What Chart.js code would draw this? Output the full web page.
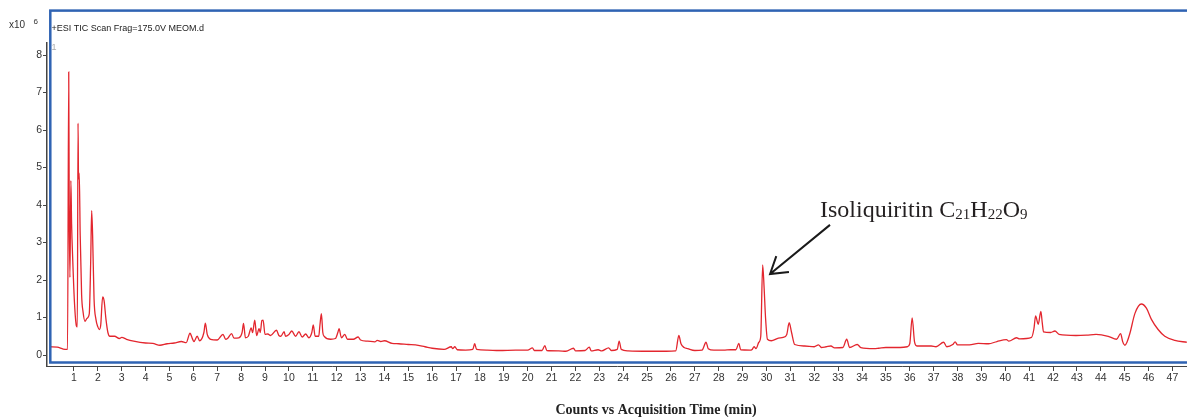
<!DOCTYPE html>
<html>
<head>
<meta charset="utf-8">
<title>TIC chromatogram</title>
<script src="https://cdn.jsdelivr.net/npm/chart.js@4"></script>
<style>
  body { margin: 0; background: #fff; }
  #wrap { width: 1187px; height: 417px; }
</style>
</head>
<body>
<div id="wrap"><canvas id="ticChart" width="1187" height="417"></canvas></div>
<script>
// retention time (min)
var times = [
  0.00, 0.30, 0.55, 0.70, 0.73, 0.78, 0.80, 0.83, 0.87, 0.90, 0.95, 1.02, 1.10, 1.14,
  1.17, 1.19, 1.22, 1.26, 1.32, 1.38, 1.46, 1.55, 1.64, 1.70, 1.74, 1.78, 1.84, 1.92,
  2.00, 2.06, 2.12, 2.20, 2.26, 2.34, 2.42, 2.50, 2.70, 2.90, 3.00, 3.20, 3.50, 4.00,
  4.30, 4.60, 4.90, 5.20, 5.50, 5.70, 5.86, 5.95, 6.02, 6.16, 6.26, 6.44, 6.50, 6.58,
  6.72, 7.00, 7.24, 7.35, 7.44, 7.60, 7.70, 7.90, 8.04, 8.10, 8.18, 8.30, 8.42, 8.48,
  8.57, 8.65, 8.75, 8.80, 8.87, 8.92, 9.00, 9.12, 9.23, 9.48, 9.58, 9.66, 9.80, 9.86,
  10.00, 10.12, 10.28, 10.42, 10.56, 10.70, 10.84, 10.96, 11.02, 11.10, 11.25, 11.30,
  11.36, 11.42, 11.48, 11.75, 11.95, 12.05, 12.10, 12.20, 12.34, 12.45, 12.70, 12.90,
  13.00, 13.30, 13.60, 13.70, 13.85, 14.00, 14.32, 14.60, 15.00, 15.30, 15.70, 16.00,
  16.50, 16.80, 16.86, 16.95, 17.05, 17.40, 17.70, 17.78, 17.86, 18.30, 18.80, 19.50,
  20.00, 20.20, 20.28, 20.60, 20.72, 20.80, 21.30, 21.60, 21.92, 22.00, 22.40, 22.58,
  22.66, 22.95, 23.10, 23.39, 23.50, 23.75, 23.83, 23.92, 24.20, 24.80, 25.30, 25.80,
  26.20, 26.33, 26.42, 26.55, 26.70, 27.00, 27.30, 27.47, 27.56, 27.80, 28.20, 28.50,
  28.72, 28.84, 28.92, 29.30, 29.40, 29.48, 29.56, 29.68, 29.76, 29.84, 29.90, 29.96,
  30.04, 30.20, 30.50, 30.70, 30.85, 30.95, 31.05, 31.18, 31.60, 32.00, 32.18, 32.30,
  32.50, 32.70, 32.85, 33.20, 33.36, 33.48, 33.80, 33.95, 34.50, 34.70, 35.00, 35.30,
  35.60, 35.90, 36.00, 36.10, 36.20, 36.30, 36.90, 37.10, 37.42, 37.55, 37.80, 37.90,
  38.00, 38.50, 38.87, 39.30, 39.65, 40.05, 40.15, 40.47, 40.60, 41.10, 41.20, 41.27,
  41.38, 41.49, 41.55, 41.60, 41.90, 42.08, 42.25, 42.96, 43.40, 43.80, 44.31, 44.66,
  44.83, 44.92, 45.01, 45.10, 45.22, 45.43, 45.70, 45.91, 46.12, 46.40, 46.68, 47.10,
  47.60
];

// counts, x10^6
var counts = [
  0.22, 0.21, 0.16, 0.15, 0.15, 7.55, 4.00, 2.07, 4.65, 3.50, 2.50, 1.40, 0.78, 0.75,
  6.18, 4.70, 4.85, 3.20, 1.60, 1.15, 0.90, 0.98, 1.10, 2.50, 3.85, 3.20, 1.50, 0.95,
  0.75, 0.68, 0.80, 1.55, 1.45, 0.95, 0.60, 0.50, 0.50, 0.44, 0.47, 0.42, 0.37, 0.32,
  0.31, 0.26, 0.30, 0.32, 0.36, 0.33, 0.58, 0.45, 0.36, 0.50, 0.38, 0.60, 0.85, 0.55,
  0.42, 0.40, 0.55, 0.42, 0.45, 0.57, 0.45, 0.46, 0.60, 0.84, 0.46, 0.50, 0.72, 0.60,
  0.93, 0.52, 0.70, 0.60, 0.92, 0.93, 0.55, 0.56, 0.52, 0.66, 0.52, 0.50, 0.62, 0.50,
  0.55, 0.64, 0.50, 0.62, 0.48, 0.56, 0.46, 0.60, 0.80, 0.50, 0.50, 0.80,
  1.10, 0.60, 0.50, 0.42, 0.44, 0.60, 0.70, 0.46, 0.55, 0.42, 0.42, 0.48,
  0.40, 0.37, 0.35, 0.39, 0.36, 0.38, 0.31, 0.30, 0.28, 0.27, 0.22, 0.18,
  0.15, 0.22, 0.17, 0.22, 0.14, 0.13, 0.15, 0.30, 0.15, 0.13, 0.12, 0.13,
  0.13, 0.19, 0.12, 0.12, 0.25, 0.12, 0.11, 0.10, 0.18, 0.11, 0.12, 0.21,
  0.11, 0.14, 0.11, 0.19, 0.12, 0.15, 0.37, 0.15, 0.11, 0.10, 0.10, 0.10,
  0.11, 0.52, 0.30, 0.20, 0.17, 0.12, 0.13, 0.34, 0.17, 0.13, 0.13, 0.14,
  0.14, 0.31, 0.14, 0.13, 0.15, 0.22, 0.17, 0.34, 0.50, 2.40, 1.80, 1.00,
  0.42, 0.38, 0.45, 0.47, 0.55, 0.86, 0.60, 0.28, 0.24, 0.22, 0.27, 0.20,
  0.22, 0.24, 0.19, 0.20, 0.42, 0.20, 0.28, 0.20, 0.17, 0.18, 0.20, 0.20,
  0.20, 0.22, 0.30, 0.99, 0.35, 0.24, 0.24, 0.22, 0.34, 0.22, 0.28, 0.35,
  0.27, 0.27, 0.31, 0.30, 0.36, 0.41, 0.37, 0.46, 0.43, 0.47, 0.70, 1.04,
  0.82, 1.16, 0.85, 0.62, 0.60, 0.64, 0.55, 0.52, 0.53, 0.55, 0.50, 0.42,
  0.57, 0.35, 0.26, 0.35, 0.58, 1.11, 1.36, 1.25, 0.95, 0.68, 0.50, 0.39,
  0.34
];

var xTicks = [];
for (var i = 1; i <= 47; i++) {
  xTicks.push(i);
}
var yTicks = [0, 1, 2, 3, 4, 5, 6, 7, 8];

// callout for the marked peak, in data units
var peakLabel = 'Isoliquiritin';
var formula = [['C', '21'], ['H', '22'], ['O', '9']];
var arrowTip = { x: 30.15, y: 2.16 };
var arrowTail = { x: 32.66, y: 3.47 };
var labelAt = { x: 32.24, y: 3.67 };

var points = [];
for (var i = 0; i < times.length; i++) {
  points.push({ x: times[i], y: counts[i] });
}

var frameBlue = '#2f63b3';
var axisGrey = '#444';
var sans = '"Liberation Sans", Arial, sans-serif';
var serif = '"Liberation Serif", "Times New Roman", serif';

// blue frame, header texts, callout and bottom title
var decorPlugin = {
  id: 'decor',
  afterDatasetsDraw: function(chart) {
    var ctx = chart.ctx;
    var xs = chart.scales.x;
    var ys = chart.scales.y;
    ctx.save();

    ctx.strokeStyle = frameBlue;
    ctx.lineWidth = 2.5;
    ctx.strokeRect(50.3, 10.6, 1200, 351.9);

    ctx.fillStyle = '#333';
    ctx.textBaseline = 'alphabetic';
    ctx.font = '10px ' + sans;
    ctx.fillText('x10', 9, 27.5);
    ctx.font = '8px ' + sans;
    ctx.fillText('6', 33.5, 23.5);
    ctx.font = '9px ' + sans;
    ctx.fillStyle = '#222';
    ctx.fillText('+ESI TIC Scan Frag=175.0V MEOM.d', 51.5, 30.5);
    ctx.fillStyle = '#aaa';
    ctx.fillText('1', 51.5, 50);

    // arrow
    var tx = xs.getPixelForValue(arrowTip.x);
    var ty = ys.getPixelForValue(arrowTip.y);
    var sx = xs.getPixelForValue(arrowTail.x);
    var sy = ys.getPixelForValue(arrowTail.y);
    var ang = Math.atan2(sy - ty, sx - tx);
    ctx.strokeStyle = '#1a1a1a';
    ctx.lineWidth = 2;
    ctx.beginPath();
    ctx.moveTo(sx, sy);
    ctx.lineTo(tx, ty);
    ctx.moveTo(tx + 19 * Math.cos(ang - 0.55), ty + 19 * Math.sin(ang - 0.55));
    ctx.lineTo(tx, ty);
    ctx.lineTo(tx + 19 * Math.cos(ang + 0.58), ty + 19 * Math.sin(ang + 0.58));
    ctx.stroke();

    // label with subscripted formula
    var lx = xs.getPixelForValue(labelAt.x);
    var ly = ys.getPixelForValue(labelAt.y);
    ctx.fillStyle = '#231f20';
    ctx.font = '24px ' + serif;
    ctx.fillText(peakLabel + ' ', lx, ly);
    lx += ctx.measureText(peakLabel + ' ').width;
    for (var k = 0; k < formula.length; k++) {
      ctx.font = '24px ' + serif;
      ctx.fillText(formula[k][0], lx, ly);
      lx += ctx.measureText(formula[k][0]).width;
      ctx.font = '15px ' + serif;
      ctx.fillText(formula[k][1], lx, ly + 1.5);
      lx += ctx.measureText(formula[k][1]).width;
    }

    ctx.fillStyle = '#222';
    ctx.font = 'bold 14px ' + serif;
    ctx.textAlign = 'center';
    ctx.fillText('Counts vs Acquisition Time (min)', 656, 414);
    ctx.restore();
  }
};

var config = {
  type: 'line',
  data: {
    datasets: [{
      label: 'TIC',
      data: points,
      borderColor: '#e3262e',
      borderWidth: 1.3,
      pointRadius: 0,
      cubicInterpolationMode: 'monotone',
      fill: false
    }]
  },
  options: {
    responsive: false,
    animation: false,
    layout: { padding: { top: 43, left: 0, right: 0, bottom: 0 } },
    plugins: {
      legend: { display: false },
      tooltip: { enabled: false }
    },
    scales: {
      x: {
        type: 'linear',
        min: -0.13,
        max: 47.61,
        afterBuildTicks: function(axis) {
          axis.ticks = xTicks.map(function(v) { return { value: v }; });
        },
        afterFit: function(axis) { axis.height = 51; },
        grid: { drawOnChartArea: false, drawTicks: true, tickLength: 5, color: axisGrey, lineWidth: 1 },
        border: { display: true, color: axisGrey, width: 1 },
        ticks: {
          autoSkip: false,
          maxRotation: 0,
          padding: 1,
          color: '#333',
          font: { family: sans, size: 10.5 }
        }
      },
      y: {
        type: 'linear',
        min: -0.293,
        max: 8.32,
        afterBuildTicks: function(axis) {
          axis.ticks = yTicks.map(function(v) { return { value: v }; });
        },
        afterFit: function(axis) { axis.width = 47; },
        grid: { drawOnChartArea: false, drawTicks: true, tickLength: 4, color: axisGrey, lineWidth: 1 },
        border: { display: true, color: axisGrey, width: 1.5 },
        ticks: {
          padding: 1,
          color: '#333',
          font: { family: sans, size: 10.5 }
        }
      }
    }
  },
  plugins: [decorPlugin]
};

var ticChart = new Chart(document.getElementById('ticChart'), config);
</script>
</body>
</html>
